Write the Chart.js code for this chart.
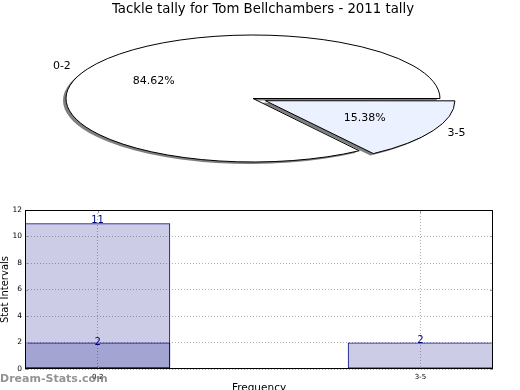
<!DOCTYPE html>
<html>
<head>
<meta charset="utf-8">
<script src="https://cdn.jsdelivr.net/npm/chart.js@4.4.1/dist/chart.umd.min.js"></script>
<style>
  html, body { margin: 0; padding: 0; background: #fff; overflow: hidden; }
  #wrap { position: relative; width: 520px; height: 390px; overflow: hidden; }
  #pieChart { position: absolute; left: 0; top: 0; }
  #barChart { position: absolute; left: 0; top: 195px; }
</style>
</head>
<body>
<div id="wrap">
  <canvas id="pieChart" width="520" height="195"></canvas>
  <canvas id="barChart" width="520" height="205"></canvas>
</div>
<script>
// data
const chartTitle = "Tackle tally for Tom Bellchambers - 2011 tally";
const binLabels = ["0-2", "3-5"];
const tallyCounts = [11, 2];
const innerCounts = [2, null];
const yTicks = [0, 2, 4, 6, 8, 10, 12];

const total = tallyCounts.reduce((a, b) => a + b, 0);
const sliceColors = ["#ffffff", "#ebf1fe"];
const squash = 63.5 / 187; // pie is drawn as an ellipse

Chart.defaults.font.family = "'DejaVu Sans', sans-serif";
Chart.defaults.color = "#000";

// squash the pie vertically, keep 1px outlines, add a flat shadow under the fills
const ellipsePie = {
  id: "ellipsePie",
  beforeDatasetsDraw(chart) {
    const ctx = chart.ctx;
    const el = chart.getDatasetMeta(0).data[0];
    const base = ctx.getTransform();
    ctx.save();
    ctx.translate(el.x, el.y);
    ctx.scale(1, squash);
    ctx.translate(-el.x, -el.y);
    ctx.shadowColor = "rgba(0,0,0,0.5)";
    ctx.shadowOffsetX = -3;
    ctx.shadowOffsetY = 2;
    ctx.shadowBlur = 0;
    ctx.stroke = function (...args) {
      this.save();
      this.setTransform(base);
      this.shadowColor = "rgba(0,0,0,0)";
      CanvasRenderingContext2D.prototype.stroke.apply(this, args);
      this.restore();
    };
  },
  afterDatasetsDraw(chart) {
    const ctx = chart.ctx;
    delete ctx.stroke;
    ctx.restore();

    ctx.save();
    ctx.fillStyle = "#000";
    // title sits a little right of the pie centre
    ctx.font = "13.3px 'DejaVu Sans'";
    ctx.textAlign = "center";
    ctx.textBaseline = "middle";
    ctx.fillText(chartTitle, 263, 10);

    // slice labels and percentages
    ctx.font = "11px 'DejaVu Sans'";
    chart.getDatasetMeta(0).data.forEach((el, i) => {
      const mid = (el.startAngle + el.endAngle) / 2;
      const off = (el.options.offset || 0) / 4;
      const r = el.outerRadius;
      const at = (f) => [
        el.x + (off + r * f) * Math.cos(mid),
        el.y + (off + r * f) * Math.sin(mid) * squash
      ];
      const [lx, ly] = at(1.1);
      ctx.textAlign = Math.cos(mid) < 0 ? "right" : "left";
      ctx.fillText(binLabels[i], lx, ly);
      const [px, py] = at(0.6);
      ctx.textAlign = "center";
      ctx.fillText((tallyCounts[i] / total * 100).toFixed(2) + "%", px, py);
    });
    ctx.restore();
  }
};

new Chart(document.getElementById("pieChart"), {
  type: "pie",
  data: {
    labels: binLabels,
    datasets: [{
      data: tallyCounts,
      backgroundColor: sliceColors,
      borderColor: "#000",
      borderWidth: 1,
      borderJoinStyle: "miter",
      offset: [0, 56]
    }]
  },
  options: {
    responsive: false,
    animation: false,
    radius: 187,
    rotation: 90 + 360 * tallyCounts[1] / total,
    layout: { padding: { left: 0, right: 14, top: 22.6, bottom: 20.6 } },
    plugins: {
      legend: { display: false },
      tooltip: { enabled: false },
      title: { display: false }
    }
  },
  plugins: [ellipsePie]
});

// frame, inward tick marks, value labels, watermark
const barExtras = {
  id: "barExtras",
  afterDatasetsDraw(chart) {
    const { ctx, chartArea: a, scales } = chart;
    ctx.save();
    ctx.strokeStyle = "#999";
    ctx.lineWidth = 1;
    ctx.beginPath();
    yTicks.forEach((v) => {
      const y = Math.round(scales.y.getPixelForValue(v)) + 0.5;
      ctx.moveTo(a.left, y); ctx.lineTo(a.left + 3, y);
      ctx.moveTo(a.right - 3, y); ctx.lineTo(a.right, y);
    });
    binLabels.forEach((_, i) => {
      const x = Math.round(scales.x.getPixelForValue(i)) + 0.5;
      ctx.moveTo(x, a.bottom); ctx.lineTo(x, a.bottom - 3);
      ctx.moveTo(x, a.top); ctx.lineTo(x, a.top + 3);
    });
    ctx.stroke();

    ctx.strokeStyle = "#000";
    ctx.strokeRect(a.left + 0.5, a.top + 0.5, a.width - 1, a.height - 1);

    ctx.fillStyle = "#000080";
    ctx.font = "10px 'DejaVu Sans'";
    ctx.textAlign = "center";
    chart.data.datasets.forEach((ds, di) => {
      chart.getDatasetMeta(di).data.forEach((el, i) => {
        const v = ds.data[i].y;
        if (v == null) return;
        ctx.textBaseline = di === 0 ? "alphabetic" : "middle";
        ctx.fillText(String(v), el.x, el.y);
      });
    });
    ctx.restore();
  },
  afterDraw(chart) {
    const ctx = chart.ctx;
    ctx.save();
    ctx.fillStyle = "rgba(120,120,120,0.8)";
    ctx.font = "bold 11px 'DejaVu Sans'";
    ctx.textAlign = "left";
    ctx.textBaseline = "middle";
    ctx.fillText("Dream-Stats.com", 0, 184);
    ctx.restore();
  }
};

const gridStyle = { color: "#b0b0b0", lineWidth: 1, drawTicks: false, offset: false };

const barStyle = {
  backgroundColor: "rgba(0,0,128,0.2)",
  borderColor: "#000080",
  borderWidth: 1,
  borderSkipped: false,
  grouped: false,
  barPercentage: 0.45,
  categoryPercentage: 1
};

new Chart(document.getElementById("barChart"), {
  type: "bar",
  data: {
    datasets: [
      { data: binLabels.map((_, i) => ({ x: i, y: tallyCounts[i] })), ...barStyle },
      { data: binLabels.map((_, i) => ({ x: i, y: innerCounts[i] })), ...barStyle }
    ]
  },
  options: {
    responsive: false,
    animation: false,
    layout: { padding: { left: 0, right: 27, top: 15, bottom: 0 } },
    plugins: { legend: { display: false }, tooltip: { enabled: false } },
    scales: {
      x: {
        type: "linear",
        offset: false,
        min: -0.225,
        max: 1.225,
        afterBuildTicks: (s) => { s.ticks = binLabels.map((_, i) => ({ value: i })); },
        afterFit: (s) => { s.height = 31; },
        ticks: {
          font: { size: 7 },
          padding: 4,
          maxRotation: 0,
          callback: (v) => binLabels[v] ?? ""
        },
        grid: gridStyle,
        border: { display: false, dash: [1, 2] },
        title: {
          display: true,
          text: "Frequency",
          font: { size: 10.5 },
          padding: { top: 0, bottom: 5.7 }
        }
      },
      y: {
        min: 0,
        max: 12,
        afterBuildTicks: (s) => { s.ticks = yTicks.map((v) => ({ value: v })); },
        afterFit: (s) => { s.width = 25; },
        ticks: { font: { size: 7.5 }, padding: 3 },
        grid: gridStyle,
        border: { display: false, dash: [1, 2] },
        title: {
          display: true,
          text: "Stat Intervals",
          font: { size: 10, lineHeight: 1 },
          padding: 0
        }
      }
    }
  },
  plugins: [barExtras]
});
</script>
</body>
</html>
